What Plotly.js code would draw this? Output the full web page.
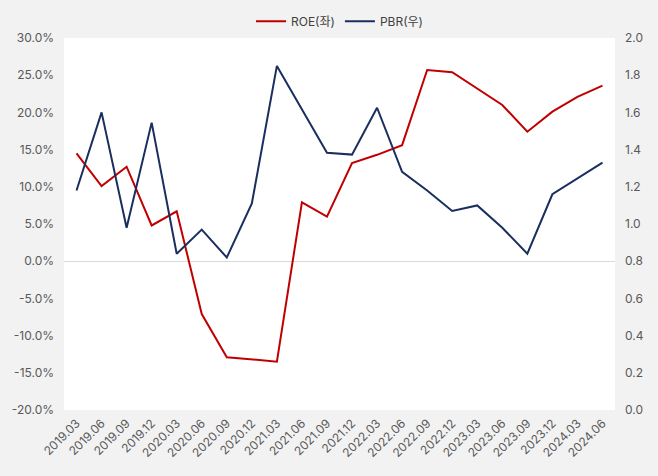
<!DOCTYPE html>
<html>
<head>
<meta charset="utf-8">
<script src="https://cdn.plot.ly/plotly-3.0.1.min.js"></script>
<style>html,body{margin:0;padding:0;background:#f2f2f2;}#chart{width:658px;height:476px;}</style>
</head>
<body>
<div id="chart"></div>
<script>
const quarters = ["2019.03","2019.06","2019.09","2019.12","2020.03","2020.06","2020.09","2020.12","2021.03","2021.06","2021.09","2021.12","2022.03","2022.06","2022.09","2022.12","2023.03","2023.06","2023.09","2023.12","2024.03","2024.06"];
const roe = [14.5,10.1,12.7,4.8,6.7,-7.1,-12.9,-13.2,-13.5,7.9,6.0,13.2,14.3,15.6,25.7,25.4,23.2,21.0,17.4,20.1,22.1,23.6];
const pbr = [1.18,1.60,0.98,1.545,0.84,0.97,0.82,1.11,1.85,1.617,1.383,1.373,1.625,1.28,1.18,1.07,1.10,0.98,0.84,1.16,1.245,1.33];
const leftTickVals = [30,25,20,15,10,5,0,-5,-10,-15,-20];
const leftTickText = ["30.0%","25.0%","20.0%","15.0%","10.0%","5.0%","0.0%","-5.0%","-10.0%","-15.0%","-20.0%"];

const font = "Inter, 'Noto Sans CJK KR', sans-serif";
const traces = [
  {x: quarters, y: roe, name: "ROE(좌)", type: "scatter", mode: "lines", yaxis: "y",
   line: {color: "#C00000", width: 2}},
  {x: quarters, y: pbr, name: "PBR(우)", type: "scatter", mode: "lines", yaxis: "y2",
   line: {color: "#1A2F5E", width: 2}}
];
const layout = {
  width: 658, height: 476,
  margin: {l: 64, r: 43, t: 38, b: 66, pad: 0},
  paper_bgcolor: "#f2f2f2",
  plot_bgcolor: "#ffffff",
  font: {family: font, size: 12, color: "#595959"},
  showlegend: true,
  legend: {orientation: "h", x: 0.5, xanchor: "center", y: 0.925, yanchor: "bottom", yref: "container",
           font: {size: 12, color: "#404040"}, bgcolor: "rgba(0,0,0,0)", traceorder: "normal"},
  xaxis: {type: "category", range: [-0.5, 21.5], tickangle: -45, showgrid: false, zeroline: false,
          showline: false, ticks: "", ticklabelstandoff: 3, tickfont: {size: 12, color: "#595959"}, automargin: false},
  yaxis: {range: [-20, 30], tickvals: leftTickVals, ticktext: leftTickText, showgrid: false,
          zeroline: true, zerolinecolor: "#d9d9d9", zerolinewidth: 1, showline: false, ticks: "",
          ticklabelstandoff: 9, tickfont: {size: 12, color: "#595959"}, automargin: false},
  yaxis2: {range: [0, 2], dtick: 0.2, tick0: 0, tickformat: ".1f", overlaying: "y", side: "right",
           showgrid: false, zeroline: false, showline: false, ticks: "", ticklabelstandoff: 9,
           tickfont: {size: 12, color: "#595959"}, automargin: false}
};
Plotly.newPlot("chart", traces, layout, {displayModeBar: false, staticPlot: true});
</script>
</body>
</html>
